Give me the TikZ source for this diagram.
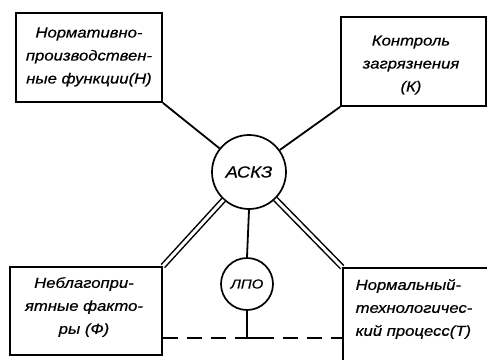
\documentclass[tikz,border=0pt]{standalone}
\usepackage{fontspec}
\newfontfamily\hand[FakeStretch=1.15, FakeBold=0.6]{Liberation Sans}
\begin{document}
\begin{tikzpicture}[x=1pt,y=-1pt,
  box/.style={draw, line width=1.7pt, inner sep=0pt},
  txt/.style={font=\hand\itshape\fontsize{14.5}{23}\selectfont, align=center, inner sep=0pt},
  ring/.style={draw, circle, line width=1.7pt, inner sep=0pt},
  link/.style={line width=1.8pt},
  dbl/.style={line width=1.5pt, double, double distance=3pt},
  dsh/.style={line width=2.2pt, dash pattern=on 15pt off 9pt}]
\useasboundingbox (0,0) rectangle (487,359);

% four boxes
\node[box, minimum width=146pt, minimum height=89pt] (nf) at (89,57.5) {};
\node[box, minimum width=145pt, minimum height=89pt] (kz) at (413.5,61.5) {};
\node[box, minimum width=152pt, minimum height=88pt] (nff) at (86,311) {};
\node[box, minimum width=146pt, minimum height=96pt] (tp) at (416,316) {};

% box texts
\node[txt] (nftext) at (89,57) {Нормативно-\\производствен-\\ные функции(Н)};
\node[txt] (kztext) at (411,65) {Контроль\\загрязнения\\(К)};
\node[txt] (nfftext) at (84,307) {Неблагопри-\\ятные факто-\\ры (Ф)};
\node[txt, align=left] (tptext) at (414,309) {Нормальный-\\технологичес-\\кий процесс(Т)};

% circles
\node[ring, minimum size=74pt] (ackz) at (249,172) {};
\node[txt, font=\hand\itshape\fontsize{16}{18}\selectfont] (ackztext) at (ackz.center) {АСКЗ};
\node[ring, minimum size=52pt] (lpo) at (247,284) {};
\node[txt, font=\hand\itshape\fontsize{13}{15}\selectfont] (lpotext) at (lpo.center) {ЛПО};

% connectors
\draw[link] (nf.south east) -- (ackz);
\draw[link] (kz.south west) -- (ackz);
\draw[dbl] (nff.north east) -- (ackz);
\draw[dbl] (tp.north west) -- (ackz);
\draw[link] (ackz.south) -- (lpo.north);

% dashed link between lower boxes, with the stub from the small circle
\coordinate (dl) at (nff.east |- 0,338);
\coordinate (dr) at (tp.west |- 0,338);
\coordinate (foot) at (lpo.south |- 0,338);
\draw[dsh] (dl) -- (dr);
\draw[link] (lpo.south) -- (foot);
\draw[line width=2.2pt] ([xshift=-12pt]foot) -- ([xshift=12pt]foot);
\end{tikzpicture}
\end{document}
